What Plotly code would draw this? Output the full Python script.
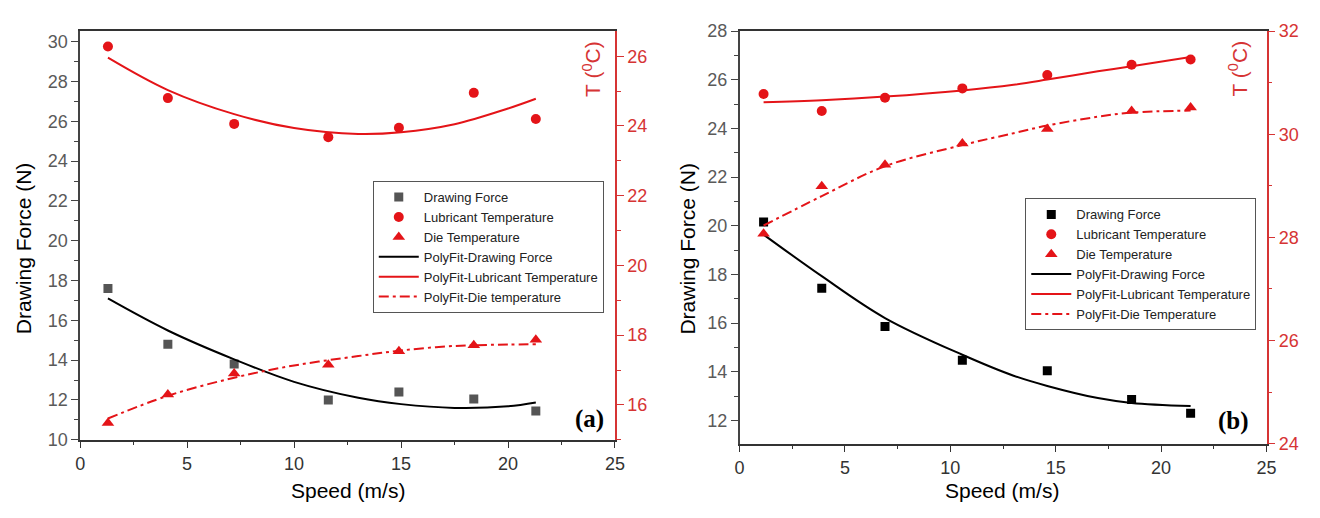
import plotly.graph_objects as go

# ---------------- Panel (a) data ----------------
a_speed = [1.3, 4.1, 7.2, 11.6, 14.9, 18.4, 21.3]
a_force = [17.6, 14.8, 13.8, 12.0, 12.4, 12.05, 11.45]
a_lub_temp = [26.28, 24.8, 24.06, 23.68, 23.95, 24.95, 24.2]
a_die_temp = [15.48, 16.3, 16.9, 17.15, 17.54, 17.71, 17.87]

a_fit_x = [1.3, 4.1, 7.2, 10.0, 13.0, 15.0, 17.5, 20.0, 21.3]
a_fit_force = [17.1, 15.49, 14.04, 12.91, 12.11, 11.79, 11.6, 11.68, 11.87]
a_fit_lub = [25.96, 25.03, 24.34, 23.94, 23.77, 23.82, 24.05, 24.5, 24.78]
a_fit_die = [15.61, 16.26, 16.78, 17.13, 17.40, 17.56, 17.69, 17.73, 17.74]

# ---------------- Panel (b) data ----------------
b_speed = [1.14, 3.9, 6.9, 10.57, 14.6, 18.6, 21.4]
b_force = [20.16, 17.43, 15.86, 14.48, 14.04, 12.86, 12.30]
b_lub_temp = [30.78, 30.45, 30.71, 30.89, 31.15, 31.35, 31.45]
b_die_temp = [28.07, 28.99, 29.41, 29.82, 30.10, 30.45, 30.52]

b_fit_x = [1.14, 3.9, 6.9, 10.57, 13.0, 14.6, 17.0, 18.6, 21.4]
b_fit_force = [19.64, 17.93, 16.21, 14.70, 13.84, 13.42, 12.92, 12.72, 12.59]
b_fit_lub = [30.62, 30.66, 30.73, 30.85, 30.96, 31.06, 31.22, 31.32, 31.50]
b_fit_die = [28.23, 28.80, 29.38, 29.79, 30.02, 30.17, 30.34, 30.42, 30.46]

x_ticks = [0, 5, 10, 15, 20, 25]

RED = "rgb(228,20,24)"
AXRED = "rgb(214,52,52)"
FONT = "Liberation Sans, Arial, sans-serif"

fig = go.Figure()

def add_panel(xs, force, lub, die, fx, ffit, lfit, dfit, xa, ya, ya2, legend, sqcolor, die_name):
    fig.add_trace(go.Scatter(x=xs, y=force, mode="markers", name="Drawing Force",
                             marker=dict(symbol="square", size=9, color=sqcolor),
                             xaxis=xa, yaxis=ya, legend=legend))
    fig.add_trace(go.Scatter(x=xs, y=lub, mode="markers", name="Lubricant Temperature",
                             marker=dict(symbol="circle", size=10, color=RED),
                             xaxis=xa, yaxis=ya2, legend=legend))
    fig.add_trace(go.Scatter(x=xs, y=die, mode="markers", name="Die Temperature",
                             marker=dict(symbol="triangle-up", size=11, color=RED),
                             xaxis=xa, yaxis=ya2, legend=legend))
    fig.add_trace(go.Scatter(x=fx, y=ffit, mode="lines", name="PolyFit-Drawing Force",
                             line=dict(color="black", width=2, shape="spline"),
                             xaxis=xa, yaxis=ya, legend=legend))
    fig.add_trace(go.Scatter(x=fx, y=lfit, mode="lines", name="PolyFit-Lubricant Temperature",
                             line=dict(color=RED, width=2, shape="spline"),
                             xaxis=xa, yaxis=ya2, legend=legend))
    fig.add_trace(go.Scatter(x=fx, y=dfit, mode="lines", name=die_name,
                             line=dict(color=RED, width=2, shape="spline", dash="10px,4px,3px,4px"),
                             xaxis=xa, yaxis=ya2, legend=legend))

add_panel(a_speed, a_force, a_lub_temp, a_die_temp, a_fit_x, a_fit_force, a_fit_lub, a_fit_die,
          "x", "y", "y2", "legend", "#555555", "PolyFit-Die temperature")
add_panel(b_speed, b_force, b_lub_temp, b_die_temp, b_fit_x, b_fit_force, b_fit_lub, b_fit_die,
          "x2", "y3", "y4", "legend2", "black", "PolyFit-Die Temperature")

W, H = 1320, 518
def px(v): return v / W
def py(v): return 1 - v / H

xdomA = [px(76), px(617)]
xdomB = [px(743), px(1276)]
ydomA = [py(447), py(22)]
ydomB = [py(451), py(22)]

def xaxis(dom, anchor):
    return dict(domain=dom, anchor=anchor, range=[0, 25], tickvals=x_ticks,
                showline=True, linecolor="#333", linewidth=1.5, mirror=True,
                ticks="outside", ticklen=7, tickcolor="#333", showgrid=False, zeroline=False,
                tickfont=dict(family=FONT, size=18, color="#333"),
                minor=dict(dtick=2.5, ticks="outside", ticklen=4, tickcolor="#333"))

def yleft(dom, anchor, rng, dtick):
    return dict(domain=dom, anchor=anchor, range=rng, dtick=dtick, tick0=0,
                showline=True, linecolor="#444", linewidth=1.5,
                ticks="outside", ticklen=7, tickcolor="#444", showgrid=False, zeroline=False,
                tickfont=dict(family=FONT, size=18, color="#5a5a5a"),
                minor=dict(dtick=1, ticks="outside", ticklen=4, tickcolor="#444"))

def yright(overlay, anchor, rng):
    return dict(overlaying=overlay, anchor=anchor, side="right", range=rng, dtick=2, tick0=0,
                showline=True, linecolor=AXRED, linewidth=1.5,
                ticks="outside", ticklen=7, tickcolor=AXRED, showgrid=False, zeroline=False,
                tickfont=dict(family=FONT, size=18, color=AXRED),
                minor=dict(dtick=1, ticks="outside", ticklen=4, tickcolor=AXRED))

legend_style = dict(bgcolor="white", bordercolor="#555", borderwidth=1,
                    font=dict(family=FONT, size=13, color="#222"),
                    xanchor="left", yanchor="top", tracegroupgap=0, itemwidth=40)

ann = []
def title_annots(cx, cy_drawing, speed_x, tx, ty):
    ann.append(dict(text="Drawing Force (N)", x=px(cx), y=py(cy_drawing), xref="paper", yref="paper",
                    xanchor="center", yanchor="middle",
                    textangle=-90, showarrow=False, font=dict(family=FONT, size=21, color="black")))
    ann.append(dict(text="Speed (m/s)", x=px(speed_x), y=py(500), xref="paper", yref="paper",
                    xanchor="center", yanchor="middle",
                    showarrow=False, font=dict(family=FONT, size=21, color="black")))
    ann.append(dict(text="T (<sup>0</sup>C)", x=px(tx), y=py(ty), xref="paper", yref="paper",
                    xanchor="center", yanchor="middle",
                    textangle=-90, showarrow=False, font=dict(family=FONT, size=21, color=AXRED)))

title_annots(19, 248, 347, 593, 61)
title_annots(690, 248, 1008, 1247, 61)
ann.append(dict(text="<b>(a)</b>", x=px(591), y=py(425), xref="paper", yref="paper", showarrow=False,
                xanchor="center", yanchor="middle",
                font=dict(family="Liberation Serif, Times New Roman, serif", size=25, color="black")))
ann.append(dict(text="<b>(b)</b>", x=px(1243), y=py(427), xref="paper", yref="paper", showarrow=False,
                xanchor="center", yanchor="middle",
                font=dict(family="Liberation Serif, Times New Roman, serif", size=25, color="black")))

fig.update_layout(
    width=W, height=H, margin=dict(l=0, r=0, t=0, b=0),
    paper_bgcolor="white", plot_bgcolor="white",
    xaxis=xaxis(xdomA, "y"),
    yaxis=yleft(ydomA, "x", [10, 30.53], 2),
    yaxis2=yright("y", "x", [15, 26.72]),
    xaxis2=xaxis(xdomB, "y3"),
    yaxis3=yleft(ydomB, "x2", [11.05, 28], 2),
    yaxis4=yright("y3", "x2", [24, 32]),
    legend=dict(x=px(372), y=py(178), **legend_style),
    legend2=dict(x=px(1032), y=py(196), **legend_style),
    annotations=ann,
    showlegend=True,
)

fig.write_html("out.html")
